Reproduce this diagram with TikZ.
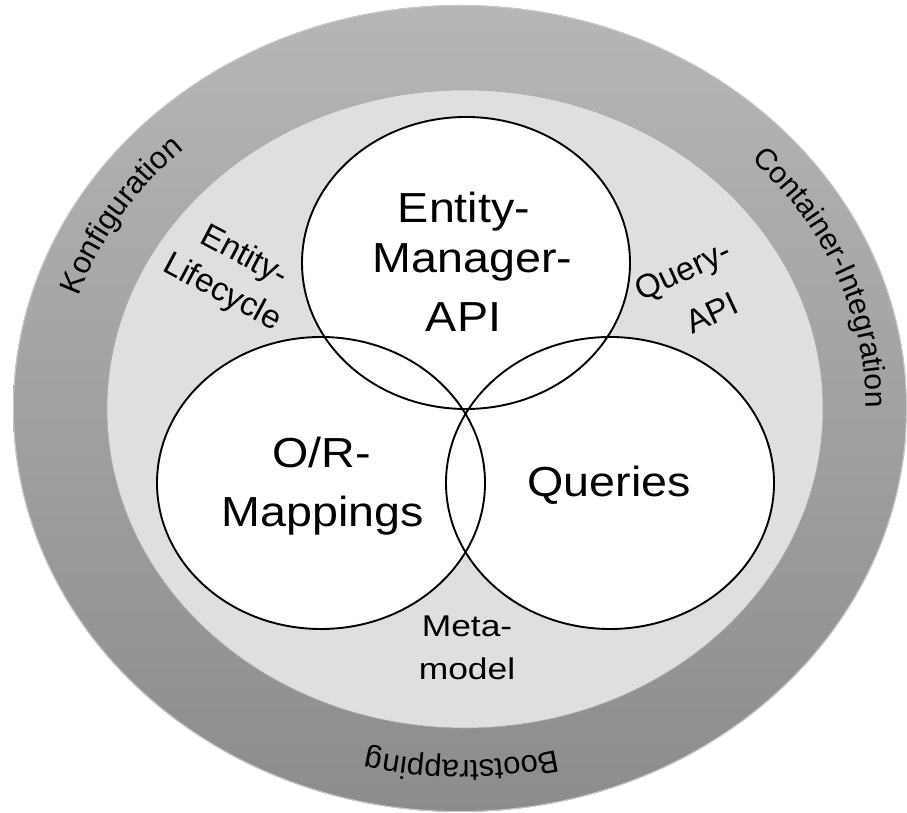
\documentclass[tikz,border=0pt]{standalone}
\usepackage{fontspec}
\setmainfont{Liberation Sans}
\usetikzlibrary{decorations.text}
\definecolor{ringtop}{RGB}{182,182,182}
\definecolor{ringbot}{RGB}{140,140,140}
\definecolor{ringedge}{RGB}{200,200,200}
\definecolor{innerfill}{RGB}{223,223,223}
\definecolor{inneredge}{RGB}{170,170,170}
\newcommand\ringfont{\fontsize{31}{37}\selectfont}
\begin{document}
\begin{tikzpicture}[x=1pt,y=1pt,
  mainlbl/.style={font=\fontsize{42}{50}\selectfont, inner sep=0pt, anchor=base, xscale=1.11},
  sublbl/.style={font=\fontsize{33}{39}\selectfont, inner sep=0pt},
  metalbl/.style={font=\fontsize{30}{36}\selectfont, inner sep=0pt, anchor=base, xscale=1.18},
  venn/.style={line width=1.9pt, draw=black},
  ringtext/.style={decorate, decoration={text along path, text align=center, text={#1}}}]
\useasboundingbox (0,0) rectangle (907,813);
\coordinate (O) at (460,404.5);
\coordinate (I) at (465,404);
\coordinate (B) at (462,404.5);
\coordinate (T) at (466,550);
\coordinate (L) at (321,330);
\coordinate (R) at (610,330);
% outer ring
\path[top color=ringtop, bottom color=ringbot] (O) ellipse [x radius=447pt, y radius=403.5pt];
\draw[ringedge, line width=1pt] (O) ellipse [x radius=446.5pt, y radius=403pt];
% inner area
\fill[innerfill] (I) ellipse [x radius=358pt, y radius=319pt];
\draw[inneredge, line width=0.6pt] (I) ellipse [x radius=358pt, y radius=319pt];
% venn fills
\fill[white] (T) ellipse [x radius=164pt, y radius=146pt];
\fill[white] (L) ellipse [x radius=164pt, y radius=146pt];
\fill[white] (R) ellipse [x radius=164pt, y radius=146pt];
\draw[venn] (T) ellipse [x radius=164pt, y radius=146pt];
\draw[venn] (L) ellipse [x radius=164pt, y radius=146pt];
\draw[venn] (R) ellipse [x radius=164pt, y radius=146pt];
% main labels
\node[mainlbl] (em1) at (464,590) {Entity-};
\node[mainlbl] (em2) at (472.5,540) {Manager-};
\node[mainlbl] (em3) at (463.5,481) {API};
\node[mainlbl] (or1) at (321.5,345) {O/R-};
\node[mainlbl] (or2) at (322.5,286) {Mappings};
\node[mainlbl] (qu) at (609,316) {Queries};
% intermediate labels
\node[sublbl, rotate=-28] (el1) at (244,556) {Entity-};
\node[sublbl, rotate=-28] (el2) at (222,520) {Lifecycle};
\node[sublbl, rotate=25] (qa1) at (684,540) {Query-};
\node[sublbl, rotate=25] (qa2) at (712,500) {API};
\node[metalbl] (mm1) at (467,176) {Meta-};
\node[metalbl] (mm2) at (467,133) {model};
% ring labels
\path[ringtext={|\ringfont|Konfiguration}] (B) ++(174:404pt and 357pt)
  arc [start angle=174, end angle=122, x radius=404pt, y radius=357pt];
\path[ringtext={|\fontsize{30}{36}\selectfont|Container-Integration}] (B) ++(62:404pt and 357pt)
  arc [start angle=62, end angle=-19, x radius=404pt, y radius=357pt];
\path[ringtext={|\ringfont|Bootstrapping}] (B) ++(-60:396pt and 352pt)
  arc [start angle=-60, end angle=-120, x radius=396pt, y radius=352pt];
\end{tikzpicture}
\end{document}
